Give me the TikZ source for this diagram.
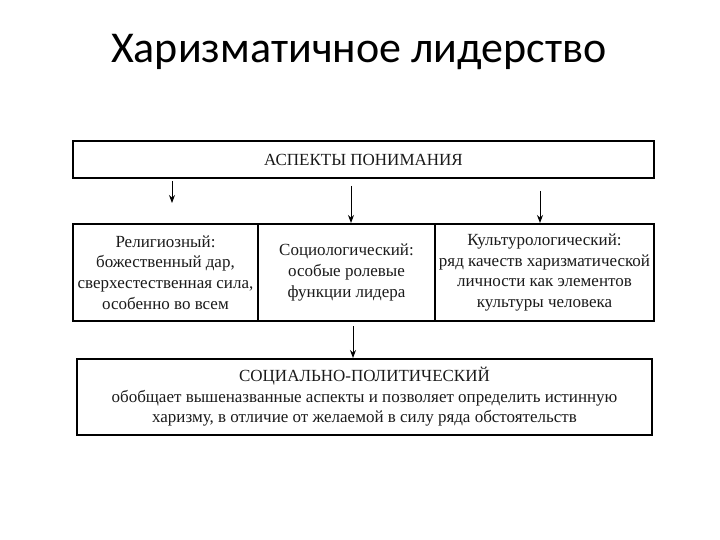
\documentclass[tikz,border=0pt]{standalone}
\usepackage{fontspec}
\setmainfont{Liberation Serif}
\newfontfamily\titlefont{Carlito}
\usetikzlibrary{arrows.meta,calc}
\definecolor{ink}{HTML}{000000}
\definecolor{textgray}{HTML}{1A1A1A}
\tikzset{
  >={Stealth[length=8pt,width=6pt]},
  arrow/.style={draw=ink, line width=1pt, ->},
  frame/.style={draw=ink, line width=2pt, align=center, inner sep=1pt,
    text=textgray, font=\fontsize{17}{20.6}\selectfont},
  headline/.style={font=\titlefont\fontsize{44}{50}\selectfont, text=black}
}
\begin{document}
\begin{tikzpicture}[x=1pt,y=-1pt]
  \path[use as bounding box] (0,0) rectangle (720,540);
  \node[headline, anchor=base] (title) at (359,63) {Харизматичное лидерство};

  % top box
  \node[frame, minimum width=581pt, minimum height=37pt] (aspects) at (363.5,159.5)
    {АСПЕКТЫ ПОНИМАНИЯ};

  % three aspects
  \node[frame, minimum width=185pt, minimum height=97pt] (rel) at (165.5,272.5)
    {Религиозный:\\божественный дар,\\сверхестественная сила,\\особенно во всем};
  \node[frame, minimum width=177pt, minimum height=97pt] (soc) at (346.5,272.5)
    {Социологический:\\особые ролевые\\функции лидера};
  \node[frame, minimum width=219pt, minimum height=97pt] (cult) at (544.5,272.5)
    {Культурологический:\\ряд качеств харизматической\\личности как элементов\\культуры человека};

  % bottom box
  \node[frame, minimum width=575pt, minimum height=76pt] (polit) at (364.5,397)
    {СОЦИАЛЬНО-ПОЛИТИЧЕСКИЙ\\обобщает вышеназванные аспекты и позволяет определить истинную\\харизму, в отличие от желаемой в силу ряда обстоятельств};

  \draw[arrow] ([xshift=6.5pt]aspects.south -| rel.north) ++(0,2) -- ++(0,22);
  \draw[arrow] ($(aspects.south -| soc.north)+(4.5,7)$) -- ($(soc.north)+(4.5,0)$);
  \draw[arrow] ($(aspects.south -| cult.north)+(-4.5,12)$) -- ($(cult.north)+(-4.5,0)$);
  \draw[arrow] ($(soc.south)+(6.5,4)$) -- ($(soc.south |- polit.north)+(6.5,0)$);
\end{tikzpicture}
\end{document}
